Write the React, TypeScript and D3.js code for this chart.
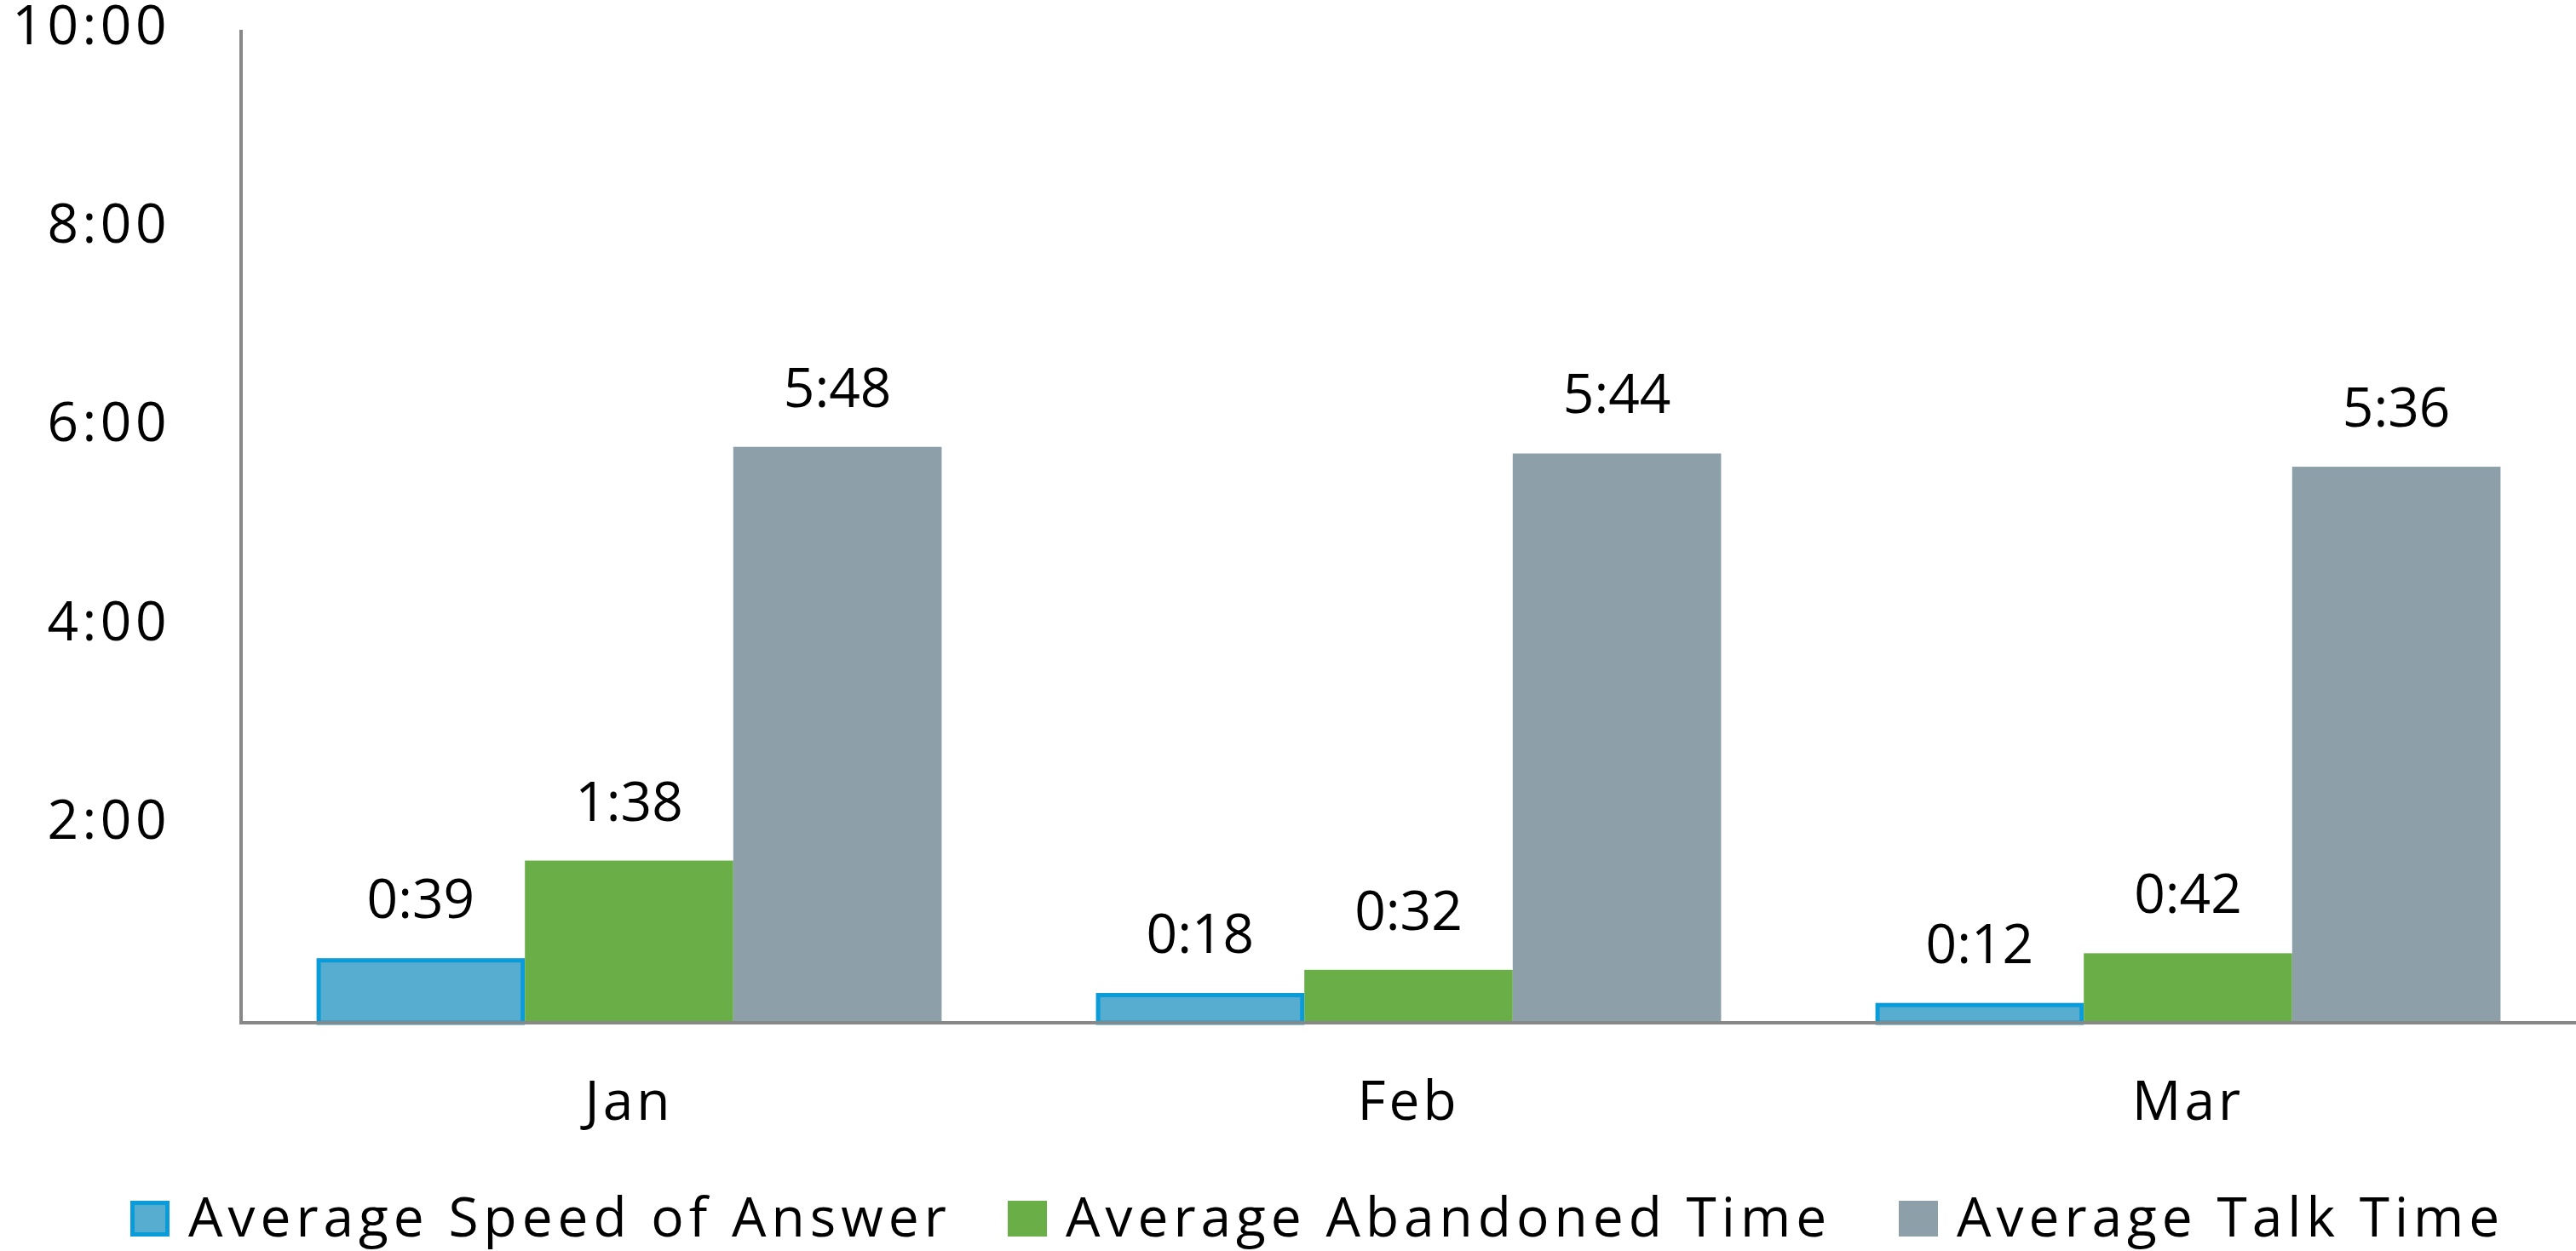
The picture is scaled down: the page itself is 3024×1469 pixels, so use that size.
import React, { useEffect, useRef } from "react";
import * as d3 from "d3";

// values in seconds
const months = ["Jan", "Feb", "Mar"];
const seriesNames = [
  "Average Speed of Answer",
  "Average Abandoned Time",
  "Average Talk Time",
];
const speedOfAnswer = [39, 18, 12];
const abandonedTime = [98, 32, 42];
const talkTime = [348, 344, 336];
const yTickValues = [120, 240, 360, 480, 600];

const fills = ["#57ADD0", "#6AAE47", "#8DA0A9"];
const BLUE_EDGE = "#0A9CD8";
const AXIS = "#888888";
const FONT = "'Open Sans', 'Noto Sans', sans-serif";

const fmt = (s: number) =>
  `${Math.floor(s / 60)}:${String(s % 60).padStart(2, "0")}`;

const App: React.FC = () => {
  const svgRef = useRef<SVGSVGElement | null>(null);

  useEffect(() => {
    const svg = d3.select(svgRef.current);
    svg.selectAll("*").remove();

    const width = 3024;
    const top = 35;
    const base = 1201;
    const axisX = 283;

    const values = [speedOfAnswer, abandonedTime, talkTime];
    const data = months.map((m, i) => ({
      month: m,
      vals: values.map((v, k) => ({ k, name: seriesNames[k], v: v[i] })),
    }));

    const x0 = d3
      .scaleBand<string>()
      .domain(months)
      .range([281, 3026])
      .paddingInner(0.198)
      .paddingOuter(0.099);
    const x1 = d3
      .scaleBand<string>()
      .domain(seriesNames)
      .range([0, x0.bandwidth()]);
    const y = d3.scaleLinear().domain([0, 600]).range([base, top]);

    // y tick labels (no 0)
    svg
      .append("g")
      .selectAll("text")
      .data(yTickValues)
      .enter()
      .append("text")
      .attr("x", 200)
      .attr("y", (d) => y(d) + 17)
      .attr("text-anchor", "end")
      .style("font-family", FONT)
      .style("font-size", "64px")
      .style("letter-spacing", "4.5px")
      .attr("fill", "#000")
      .text((d) => fmt(d));

    const groups = svg
      .append("g")
      .selectAll("g")
      .data(data)
      .enter()
      .append("g")
      .attr("transform", (d) => `translate(${x0(d.month)},0)`);

    groups
      .selectAll("rect")
      .data((d) => d.vals)
      .enter()
      .append("rect")
      .attr("x", (d) => (x1(d.name) || 0) + (d.k === 0 ? 2.5 : 0))
      .attr("y", (d) => y(d.v) + (d.k === 0 ? 2.5 : 0))
      .attr("width", (d) => x1.bandwidth() - (d.k === 0 ? 5 : 0))
      .attr("height", (d) => base - y(d.v) - (d.k === 0 ? 2.5 : 0))
      .attr("fill", (d) => fills[d.k])
      .attr("stroke", (d) => (d.k === 0 ? BLUE_EDGE : "none"))
      .attr("stroke-width", 5);

    groups
      .selectAll("text")
      .data((d) => d.vals)
      .enter()
      .append("text")
      .attr("x", (d) => (x1(d.name) || 0) + x1.bandwidth() / 2)
      .attr("y", (d) => y(d.v) - 47)
      .attr("text-anchor", "middle")
      .style("font-family", FONT)
      .style("font-size", "64px")
      .attr("fill", "#000")
      .text((d) => fmt(d.v));

    // axes lines
    svg
      .append("line")
      .attr("x1", axisX)
      .attr("x2", axisX)
      .attr("y1", top)
      .attr("y2", base + 2)
      .attr("stroke", AXIS)
      .attr("stroke-width", 4);
    svg
      .append("line")
      .attr("x1", axisX - 2)
      .attr("x2", width)
      .attr("y1", base)
      .attr("y2", base)
      .attr("stroke", AXIS)
      .attr("stroke-width", 4);

    // month labels
    svg
      .append("g")
      .selectAll("text")
      .data(months)
      .enter()
      .append("text")
      .attr("x", (d) => (x0(d) || 0) + x0.bandwidth() / 2)
      .attr("y", 1315)
      .attr("text-anchor", "middle")
      .style("font-family", FONT)
      .style("font-size", "64px")
      .style("letter-spacing", "4px")
      .attr("fill", "#000")
      .text((d) => d);

    // legend
    const legendX = [153, 1183, 2229];
    const legend = svg
      .append("g")
      .selectAll("g")
      .data(seriesNames)
      .enter()
      .append("g")
      .attr("transform", (d, i) => `translate(${legendX[i]},1410)`);
    legend
      .append("rect")
      .attr("x", (d, i) => (i === 0 ? 2.5 : 0))
      .attr("y", (d, i) => (i === 0 ? 2.5 : 0))
      .attr("width", (d, i) => (i === 0 ? 41 : 46))
      .attr("height", (d, i) => (i === 0 ? 37 : 42))
      .attr("fill", (d, i) => fills[i])
      .attr("stroke", (d, i) => (i === 0 ? BLUE_EDGE : "none"))
      .attr("stroke-width", 5);
    legend
      .append("text")
      .attr("x", 68)
      .attr("y", 42)
      .style("font-family", FONT)
      .style("font-size", "64px")
      .style("letter-spacing", "6px")
      .attr("fill", "#000")
      .text((d) => d);
  }, []);

  return (
    <svg
      ref={svgRef}
      width={3024}
      height={1469}
      style={{ position: "absolute", left: 0, top: 0, background: "#fff" }}
    ></svg>
  );
};

export default App;
